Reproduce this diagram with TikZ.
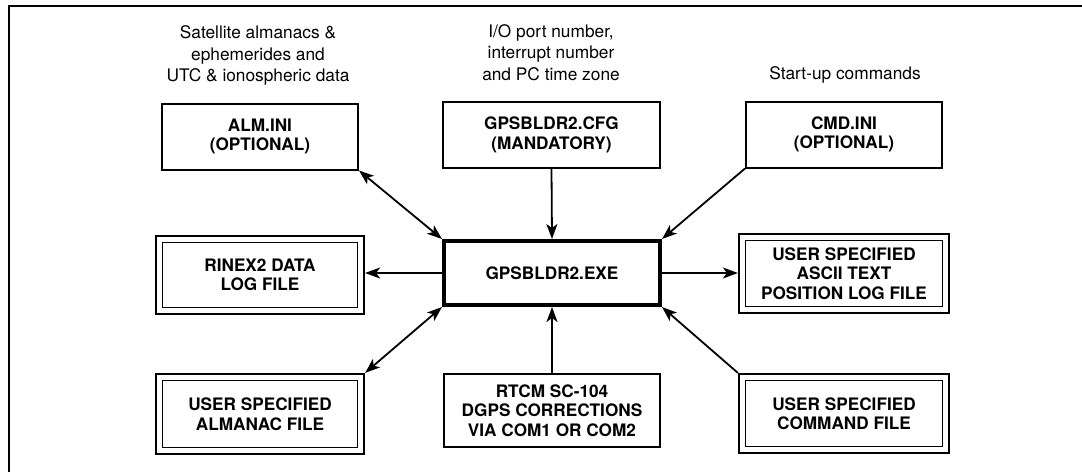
\documentclass[tikz,border=0pt]{standalone}
\usepackage{fontspec}
\setmainfont{TeX Gyre Heros}
\usetikzlibrary{arrows.meta}
\begin{document}
\begin{tikzpicture}[x=1pt,y=-1pt,
  box/.style={draw, line width=2pt, inner sep=0pt, align=center,
    font=\bfseries\fontsize{17.2}{19.5}\selectfont},
  dbox/.style={box, line width=2.2pt,
    path picture={\draw[line width=1.1pt]
      ([shift={(6.5pt,-6.5pt)}]path picture bounding box.north west) rectangle
      ([shift={(-6.5pt,6.5pt)}]path picture bounding box.south east);}},
  mainbox/.style={box, line width=4pt},
  note/.style={align=center, inner sep=0pt, font=\fontsize{17.3}{21.7}\selectfont},
  tip/.tip={Stealth[length=15pt,width=11pt,inset=4pt]},
  link/.style={line width=1.8pt, -tip},
  twoway/.style={line width=1.8pt, tip-tip},
]
\useasboundingbox (0,0) rectangle (1082,472);

% frame edge
\draw[line width=2pt] (1082,5.5) -- (9,5.5) -- (9,472);

% descriptions above the input files
\node[note] (n1) at (258,55.6) {Satellite almanacs \&\\ephemerides and\\UTC \& ionospheric data};
\node[note] (n2) at (551,52.5) {I/O port number,\\interrupt number\\and PC time zone};
\node[note, anchor=base] (n3) at (845,79.5) {Start-up commands};

% top row
\node[box, minimum width=196, minimum height=66] (alm) at (260,136.5) {ALM.INI\\(OPTIONAL)};
\node[box, minimum width=217, minimum height=66] (cfg) at (551.5,135) {GPSBLDR2.CFG\\(MANDATORY)};
\node[box, minimum width=196, minimum height=66] (cmd) at (844,134.5) {CMD.INI\\(OPTIONAL)};

% middle row
\node[mainbox, minimum width=216, minimum height=64] (exe) at (552,273) {GPSBLDR2.EXE};
\node[dbox, minimum width=208, minimum height=78] (rinex) at (260,275) {RINEX2 DATA\\LOG FILE};
\node[dbox, minimum width=210, minimum height=79] (ascii) at (844,273.5) {USER SPECIFIED\\ASCII TEXT\\POSITION LOG FILE};

% bottom row
\node[dbox, minimum width=208, minimum height=80] (almfile) at (260,414) {USER SPECIFIED\\ALMANAC FILE};
\node[box, minimum width=216, minimum height=73] (rtcm) at (552,410.5) {RTCM SC-104\\DGPS CORRECTIONS\\VIA COM1 OR COM2};
\node[dbox, minimum width=210, minimum height=79] (cmdfile) at (844,413.5) {USER SPECIFIED\\COMMAND FILE};

% connections
\draw[twoway] (alm.south east) -- (exe.north west);
\draw[link] (cfg.south) -- (exe.north);
\draw[link] (cmd.south west) -- (exe.north east);
\draw[link] (exe.west) -- (exe.west -| rinex.east);
\draw[link] (exe.east) -- (exe.east -| ascii.west);
\draw[twoway] (exe.south west) -- (almfile.north east);
\draw[link] (rtcm.north) -- (exe.south);
\draw[link] (cmdfile.north west) -- (exe.south east);
\end{tikzpicture}
\end{document}
